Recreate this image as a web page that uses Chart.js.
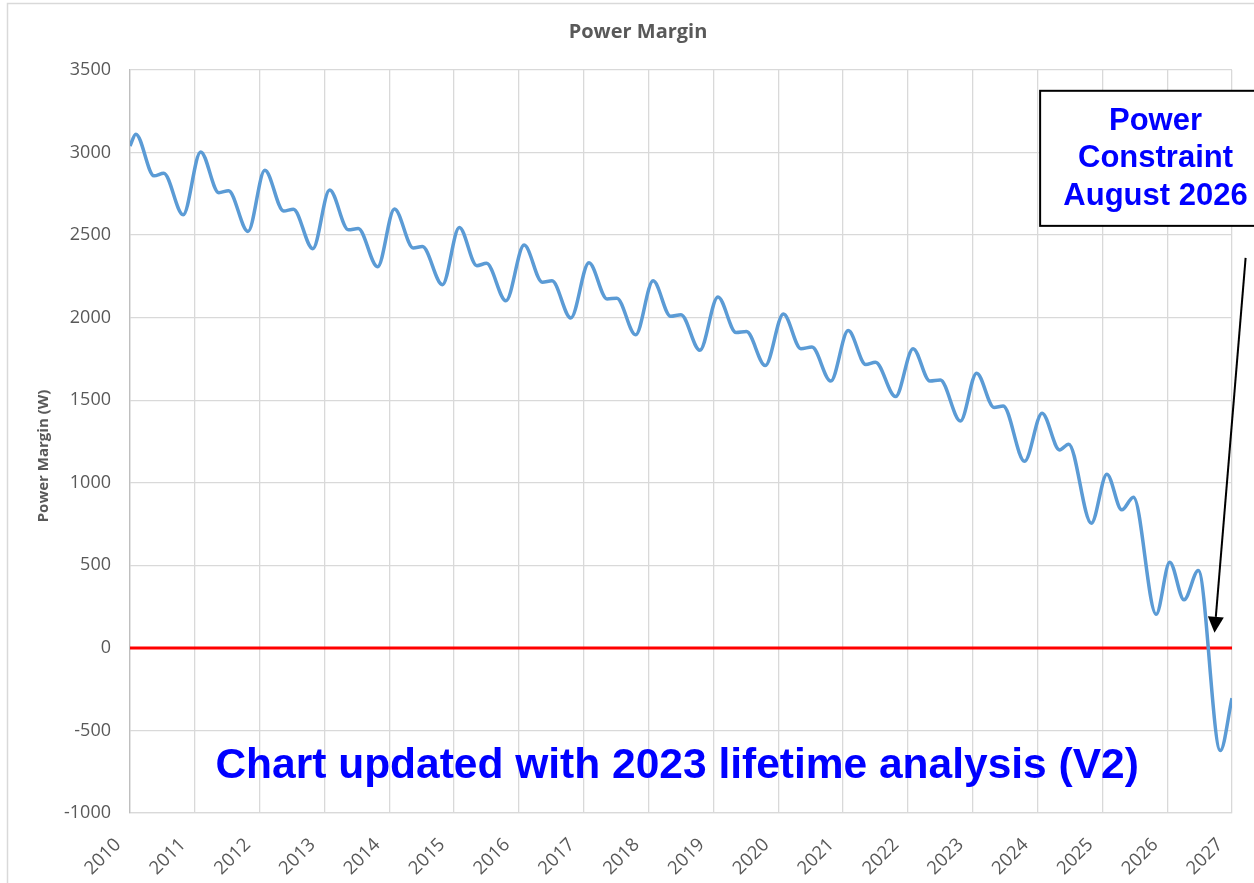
<!DOCTYPE html>
<html>
<head>
<meta charset="utf-8">
<script src="https://cdn.jsdelivr.net/npm/chart.js@4.4.0/dist/chart.umd.min.js"></script>
<style>
  body { margin: 0; background: #fff; }
</style>
</head>
<body>
<canvas id="myChart" width="1254" height="883"></canvas>
<script>
// decimal year of each sample (peaks, shoulders, humps, troughs)
var sampleYears = [
  2010.00, 2010.09, 2010.37, 2010.52, 2010.82,
  2011.09, 2011.37, 2011.52, 2011.82,
  2012.08, 2012.37, 2012.52, 2012.82,
  2013.08, 2013.37, 2013.52, 2013.82,
  2014.08, 2014.37, 2014.51, 2014.82,
  2015.08, 2015.35, 2015.50, 2015.80,
  2016.08, 2016.36, 2016.51, 2016.80,
  2017.08, 2017.36, 2017.51, 2017.80,
  2018.07, 2018.34, 2018.50, 2018.79,
  2019.07, 2019.35, 2019.51, 2019.80,
  2020.08, 2020.35, 2020.52, 2020.81,
  2021.08, 2021.35, 2021.50, 2021.81,
  2022.08, 2022.34, 2022.50, 2022.81,
  2023.06, 2023.33, 2023.47, 2023.80,
  2024.07, 2024.34, 2024.48, 2024.83,
  2025.07, 2025.30, 2025.48, 2025.83,
  2026.04, 2026.26, 2026.48, 2026.82,
  2027.00
];
var powerMargin = [
  3040, 3111, 2859, 2875, 2623,
  3004, 2757, 2769, 2522,
  2893, 2646, 2657, 2418,
  2773, 2532, 2540, 2308,
  2658, 2422, 2431, 2200,
  2546, 2315, 2329, 2102,
  2440, 2215, 2223, 1998,
  2333, 2113, 2118, 1896,
  2223, 2008, 2018, 1803,
  2125, 1910, 1916, 1710,
  2022, 1812, 1822, 1616,
  1922, 1716, 1730, 1522,
  1812, 1616, 1622, 1374,
  1664, 1456, 1465, 1130,
  1421, 1199, 1234, 755,
  1052, 836, 913, 204,
  519, 291, 468, -622,
  -305
];
var limitYears = [2010, 2027];
var limitValues = [0, 0];

var xMin = 2010, xMax = 2027;
var yMin = -1000, yMax = 3500, yStep = 500;

var chartTitle = 'Power Margin';
var yTitle = 'Power Margin (W)';
var calloutLines = ['Power', 'Constraint', 'August 2026'];
var footnote = 'Chart updated with 2023 lifetime analysis (V2)';

var marginPoints = sampleYears.map(function (x, i) { return { x: x, y: powerMargin[i] }; });
var limitPoints = limitYears.map(function (x, i) { return { x: x, y: limitValues[i] }; });

var gray = '#595959';

var extras = {
  id: 'extras',
  beforeDraw: function (chart) {
    var c = chart.ctx;
    c.save();
    c.strokeStyle = '#d9d9d9';
    c.lineWidth = 1.5;
    c.beginPath();
    c.moveTo(7.5, 883);
    c.lineTo(7.5, 3.5);
    c.lineTo(1254, 3.5);
    c.stroke();
    c.restore();
  },
  afterDraw: function (chart) {
    var c = chart.ctx;
    var xs = chart.scales.x, ys = chart.scales.y;
    c.save();

    // chart title
    c.fillStyle = gray;
    c.textAlign = 'center';
    c.textBaseline = 'middle';
    c.font = 'bold 20px "Open Sans"';
    c.fillText(chartTitle, 638, 32);

    // y axis title
    c.font = 'bold 15px "Open Sans"';
    c.translate(44, 456);
    c.rotate(-Math.PI / 2);
    c.fillText(yTitle, 0, 0);
    c.setTransform(1, 0, 0, 1, 0, 0);

    // callout box
    var bx0 = xs.getPixelForValue(2024.04), bx1 = xs.getPixelForValue(2027.6);
    var by0 = ys.getPixelForValue(3374), by1 = ys.getPixelForValue(2556);
    c.fillStyle = '#fff';
    c.fillRect(bx0, by0, bx1 - bx0, by1 - by0);
    c.strokeStyle = '#000';
    c.lineWidth = 2;
    c.strokeRect(bx0, by0, bx1 - bx0, by1 - by0);

    c.fillStyle = '#0000ff';
    c.font = 'bold 31px "Liberation Sans", Arial, sans-serif';
    var lineY = [3188, 2966, 2734];
    var cx = xs.getPixelForValue(2025.82);
    calloutLines.forEach(function (t, i) {
      c.fillText(t, cx, ys.getPixelForValue(lineY[i]));
    });

    // arrow
    var ax0 = xs.getPixelForValue(2027.21), ay0 = ys.getPixelForValue(2362);
    var ax1 = xs.getPixelForValue(2026.73), ay1 = ys.getPixelForValue(91);
    var ang = Math.atan2(ay1 - ay0, ax1 - ax0);
    var head = 16, half = 8;
    var hx = ax1 - head * Math.cos(ang), hy = ay1 - head * Math.sin(ang);
    c.strokeStyle = '#000';
    c.lineWidth = 2;
    c.beginPath();
    c.moveTo(ax0, ay0);
    c.lineTo(hx, hy);
    c.stroke();
    c.fillStyle = '#000';
    c.beginPath();
    c.moveTo(ax1, ay1);
    c.lineTo(hx + half * Math.sin(ang), hy - half * Math.cos(ang));
    c.lineTo(hx - half * Math.sin(ang), hy + half * Math.cos(ang));
    c.closePath();
    c.fill();

    // footnote
    c.fillStyle = '#0000ff';
    c.font = 'bold 42.5px "Liberation Sans", Arial, sans-serif';
    c.fillText(footnote, xs.getPixelForValue(2018.44), ys.getPixelForValue(-715));
    c.restore();
  }
};

var ctx = document.getElementById('myChart').getContext('2d');
var myChart = new Chart(ctx, {
  type: 'line',
  data: {
    datasets: [{
      label: 'Power Margin',
      data: marginPoints,
      borderColor: '#5b9bd5',
      borderWidth: 3.5,
      pointRadius: 0,
      cubicInterpolationMode: 'monotone',
      fill: false
    }, {
      label: 'Zero',
      data: limitPoints,
      borderColor: '#ff0000',
      borderWidth: 3,
      pointRadius: 0,
      fill: false
    }]
  },
  options: {
    responsive: false,
    animation: false,
    layout: { padding: { left: 0, right: 22, top: 70, bottom: 0 } },
    plugins: {
      legend: { display: false },
      tooltip: { enabled: false },
      title: { display: false }
    },
    scales: {
      x: {
        type: 'linear',
        min: xMin,
        max: xMax,
        grid: { color: '#d9d9d9', lineWidth: 1.3, drawTicks: false },
        border: { color: '#d9d9d9', width: 1.3 },
        ticks: {
          stepSize: 1,
          minRotation: 45,
          maxRotation: 45,
          padding: 21,
          labelOffset: -12,
          color: gray,
          font: { family: '"Open Sans"', size: 18.5 },
          callback: function (v) { return String(v); }
        },
        afterFit: function (s) {
          s.height = 70;
          s.paddingLeft = 0;
          s.paddingRight = 0;
        }
      },
      y: {
        min: yMin,
        max: yMax,
        grid: { color: '#d9d9d9', lineWidth: 1.3, drawTicks: false },
        border: { color: '#bfbfbf', width: 1.3 },
        ticks: {
          stepSize: yStep,
          padding: 19,
          color: gray,
          font: { family: '"Open Sans"', size: 18 },
          callback: function (v) { return String(v); }
        },
        afterFit: function (s) {
          s.width = 130;
          s.paddingTop = 0;
          s.paddingBottom = 0;
        }
      }
    }
  },
  plugins: [extras]
});
</script>
</body>
</html>
